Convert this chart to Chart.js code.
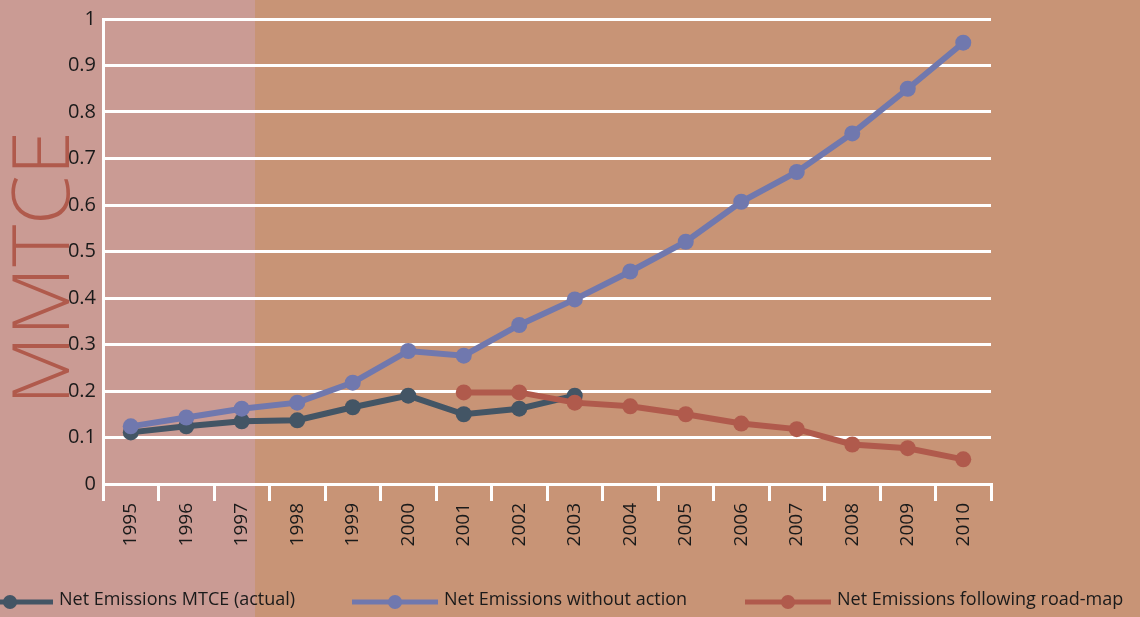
<!DOCTYPE html>
<html>
<head>
<meta charset="utf-8">
<script src="https://cdn.jsdelivr.net/npm/chart.js@4/dist/chart.umd.min.js"></script>
<style>
  html, body { margin: 0; padding: 0; background: #c89476; }
  #wrap { width: 1140px; height: 617px; }
</style>
</head>
<body>
<div id="wrap"><canvas id="emChart"></canvas></div>
<script>
const years = ['1995','1996','1997','1998','1999','2000','2001','2002','2003','2004','2005','2006','2007','2008','2009','2010'];
const actual = [0.111, 0.124, 0.135, 0.137, 0.165, 0.190, 0.150, 0.162, 0.190, null, null, null, null, null, null, null];
const noAction = [0.124, 0.143, 0.162, 0.175, 0.218, 0.286, 0.276, 0.342, 0.397, 0.457, 0.521, 0.607, 0.671, 0.754, 0.850, 0.949];
const roadMap = [null, null, null, null, null, null, 0.197, 0.197, 0.175, 0.167, 0.150, 0.130, 0.118, 0.085, 0.077, 0.053];
const seriesNames = ['Net Emissions MTCE (actual)', 'Net Emissions without action', 'Net Emissions following road-map'];
const yTitle = 'MMTCE';

const FONT = '"Open Sans", "Noto Sans", sans-serif';

// background: tan everywhere, pink strip on the left
const bgPlugin = {
    id: 'bg',
    beforeDraw(chart) {
        const c = chart.ctx;
        c.save();
        c.fillStyle = '#c89476';
        c.fillRect(0, 0, chart.width, chart.height);
        c.fillStyle = '#ca9b94';
        c.fillRect(0, 0, 255, chart.height);
        c.restore();
    },
    afterDraw(chart) {
        const c = chart.ctx;
        // big rotated y title
        c.save();
        c.translate(69, 268);
        c.rotate(-Math.PI / 2);
        c.font = '300 80px ' + FONT;
        c.fillStyle = '#b05a4c';
        c.textAlign = 'center';
        c.textBaseline = 'alphabetic';
        c.fillText(yTitle, 0, 0);
        c.restore();

        // legend: line with a dot in the middle
        const centers = [10, 395, 788];
        chart.data.datasets.forEach((ds, i) => {
            const cx = centers[i], cy = 602;
            c.save();
            c.strokeStyle = ds.borderColor;
            c.lineWidth = 5;
            c.beginPath();
            c.moveTo(cx - 43, cy);
            c.lineTo(cx + 43, cy);
            c.stroke();
            c.fillStyle = ds.borderColor;
            c.beginPath();
            c.arc(cx, cy, 7, 0, Math.PI * 2);
            c.fill();
            c.fillStyle = '#1a1a1a';
            c.font = '18px ' + FONT;
            c.textBaseline = 'middle';
            c.textAlign = 'left';
            c.fillText(ds.label, cx + 49, cy - 2);
            c.restore();
        });
    }
};

const ctx = document.getElementById('emChart').getContext('2d');
new Chart(ctx, {
    type: 'line',
    data: {
        labels: years,
        datasets: [{
            label: seriesNames[0],
            data: actual,
            borderColor: '#435565',
            backgroundColor: '#435565',
            order: 2
        }, {
            label: seriesNames[1],
            data: noAction,
            borderColor: '#7078ae',
            backgroundColor: '#7078ae',
            order: 0
        }, {
            label: seriesNames[2],
            data: roadMap,
            borderColor: '#b05a4c',
            backgroundColor: '#b05a4c',
            order: 1
        }]
    },
    options: {
        responsive: true,
        maintainAspectRatio: false,
        animation: false,
        elements: {
            line: { borderWidth: 6, tension: 0, fill: false },
            point: { radius: 8, borderWidth: 0, hoverRadius: 8 }
        },
        layout: { padding: { top: 16, right: 149, left: 0, bottom: 0 } },
        plugins: {
            legend: { display: false },
            tooltip: { enabled: false }
        },
        scales: {
            x: {
                offset: true,
                grid: {
                    offset: true,
                    drawOnChartArea: false,
                    drawTicks: true,
                    tickLength: 17,
                    color: '#ffffff',
                    lineWidth: 3
                },
                border: { display: true, color: '#ffffff', width: 3 },
                ticks: {
                    minRotation: 90,
                    maxRotation: 90,
                    autoSkip: false,
                    padding: 2,
                    color: '#1a1a1a',
                    font: { family: FONT, size: 19 }
                },
                afterFit(scale) { scale.height = 133; }
            },
            y: {
                min: 0,
                max: 1,
                grid: {
                    color: '#ffffff',
                    lineWidth: 3,
                    drawTicks: false
                },
                border: { display: true, color: '#ffffff', width: 3 },
                ticks: {
                    stepSize: 0.1,
                    padding: 7,
                    color: '#1a1a1a',
                    font: { family: FONT, size: 20 },
                    callback: v => Math.round(v * 10) / 10
                },
                afterFit(scale) { scale.width = 103; }
            }
        }
    },
    plugins: [bgPlugin]
});
</script>
</body>
</html>
